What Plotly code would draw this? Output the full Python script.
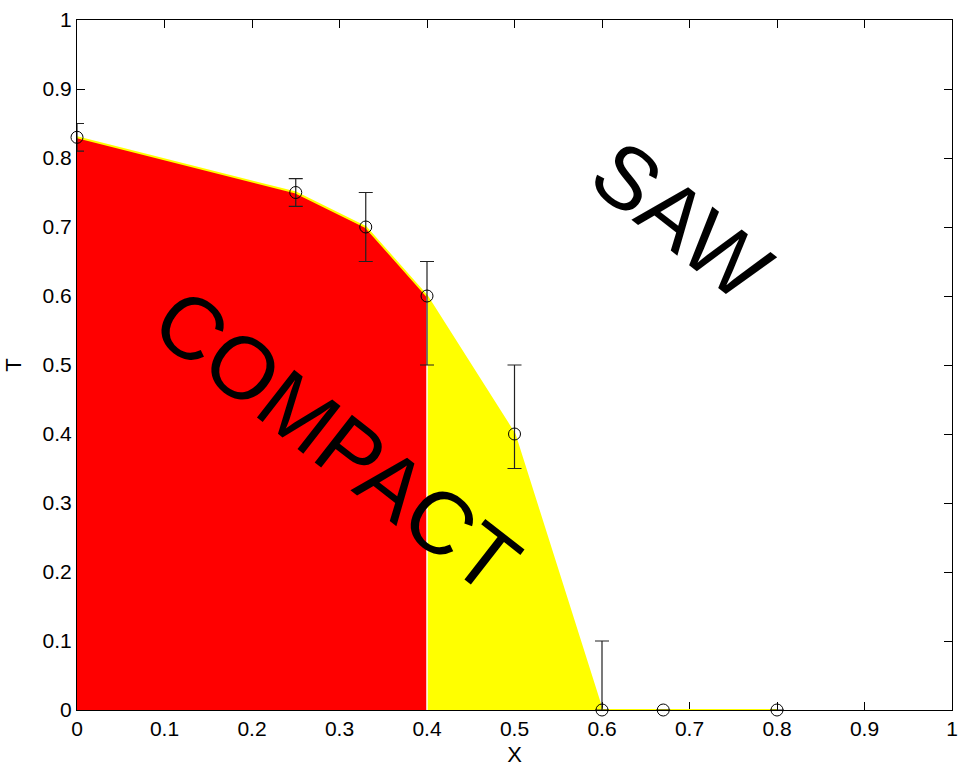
import plotly.graph_objects as go

# Phase boundary estimates T(X) with asymmetric error bars
x_vals = [0.0, 0.25, 0.33, 0.4, 0.5, 0.6, 0.67, 0.8]
t_vals = [0.83, 0.75, 0.70, 0.6, 0.4, 0.0, 0.0, 0.0]
err_plus = [0.02, 0.02, 0.05, 0.05, 0.1, 0.1, 0.0, 0.0]
err_minus = [0.02, 0.02, 0.05, 0.1, 0.05, 0.0, 0.0, 0.0]

# Regions under the boundary
compact_x = [0.0, 0.0, 0.25, 0.33, 0.4, 0.4]
compact_t = [0.0, 0.83, 0.75, 0.70, 0.6, 0.0]
mixed_x = [0.4, 0.4, 0.5, 0.6]
mixed_t = [0.0, 0.6, 0.4, 0.0]

ticks = [0, 0.1, 0.2, 0.3, 0.4, 0.5, 0.6, 0.7, 0.8, 0.9, 1]
tick_text = ["0", "0.1", "0.2", "0.3", "0.4", "0.5", "0.6", "0.7", "0.8", "0.9", "1"]

FONT = "Liberation Sans, Arial, Helvetica, sans-serif"

fig = go.Figure()

fig.add_trace(go.Scatter(
    x=compact_x, y=compact_t, fill="toself", fillcolor="#ff0000",
    mode="lines", line=dict(width=0), hoverinfo="skip", showlegend=False))
fig.add_trace(go.Scatter(
    x=mixed_x, y=mixed_t, fill="toself", fillcolor="#ffff00",
    mode="lines", line=dict(width=0), hoverinfo="skip", showlegend=False))
# white seam between the two regions
fig.add_trace(go.Scatter(
    x=[mixed_x[0], mixed_x[1]], y=[mixed_t[0], mixed_t[1]],
    mode="lines", line=dict(color="white", width=1.5),
    hoverinfo="skip", showlegend=False))
# boundary line
fig.add_trace(go.Scatter(
    x=x_vals, y=t_vals, mode="lines", line=dict(color="#ffff00", width=2),
    hoverinfo="skip", showlegend=False, cliponaxis=False))
# data points with error bars
fig.add_trace(go.Scatter(
    x=x_vals, y=t_vals, mode="markers",
    marker=dict(symbol="circle-open", size=12, color="black",
                line=dict(color="black", width=1)),
    error_y=dict(type="data", symmetric=False, array=err_plus,
                 arrayminus=err_minus, color="#222222", thickness=1.2, width=7),
    showlegend=False, cliponaxis=False))

fig.add_annotation(x=0.296, y=0.39, xref="x", yref="y", text="COMPACT",
                   showarrow=False, textangle=38,
                   font=dict(family=FONT, size=88, color="black"))
fig.add_annotation(x=0.691, y=0.71, xref="x", yref="y", text="SAW",
                   showarrow=False, textangle=38,
                   font=dict(family=FONT, size=88, color="black"))

axis_common = dict(
    range=[0, 1], tickmode="array", tickvals=ticks, ticktext=tick_text,
    ticks="inside", ticklen=8, tickwidth=1, tickcolor="black",
    showline=True, linecolor="black", linewidth=1, mirror="ticks",
    showgrid=False, zeroline=False, layer="below traces", automargin=False,
    tickfont=dict(family=FONT, size=21, color="black"),
)

fig.update_layout(
    width=958, height=767,
    margin=dict(l=77, r=6, t=20, b=57),
    paper_bgcolor="white", plot_bgcolor="white",
    xaxis=dict(**axis_common, title=dict(text="X", standoff=8,
               font=dict(family=FONT, size=22, color="black"))),
    yaxis=dict(**axis_common, title=dict(text="T", standoff=14,
               font=dict(family=FONT, size=22, color="black"))),
)

fig.write_html("out.html")
